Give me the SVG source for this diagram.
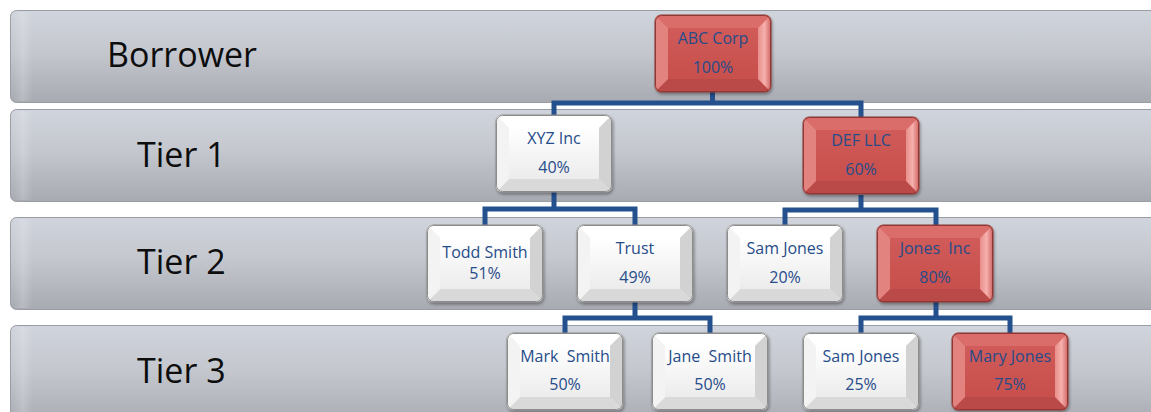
<svg xmlns="http://www.w3.org/2000/svg" xmlns:xlink="http://www.w3.org/1999/xlink" width="1151" height="412" viewBox="0 0 1151 412">
<style>
.band{fill:url(#bandGrad);stroke:#9a9da4;stroke-width:1}
.bandHi{fill:url(#bandLeft)}
.tier{font-family:"Open Sans","Liberation Sans",sans-serif;font-size:34px;fill:#0d0d0d}
.lbl{font-family:"Open Sans","Liberation Sans",sans-serif;font-size:16px;fill:#264c8a;text-anchor:middle}
.conn{fill:none;stroke:#24508e;stroke-width:5;stroke-linejoin:miter;stroke-linecap:butt}
.wOuter{fill:#f2f2f2;stroke:#8c8c8c;stroke-width:1}
.wFace{fill:url(#wFaceGrad)}
.wTop{fill:#ffffff}
.wLeft{fill:#f3f3f3}
.wRight{fill:#d2d2d2}
.wBot{fill:#d9d9d9}
.rOuter{fill:#cc5653;stroke:#8e3735;stroke-width:1}
.rFace{fill:url(#rFaceGrad)}
.rTop{fill:#da6c69}
.rLeft{fill:#e3837f}
.rRight{fill:url(#rRightGrad)}
.rBot{fill:#b94a47}
</style>
<defs>
<linearGradient id="bandGrad" x1="0" y1="0" x2="0" y2="1">
<stop offset="0" stop-color="#d0d4dc"/>
<stop offset="0.45" stop-color="#c4c7ce"/>
<stop offset="1" stop-color="#a7aab1"/>
</linearGradient>
<linearGradient id="bandLeft" x1="0" y1="0" x2="1" y2="0">
<stop offset="0" stop-color="#ffffff" stop-opacity="0"/>
<stop offset="0.5" stop-color="#ffffff" stop-opacity="0.18"/>
<stop offset="1" stop-color="#ffffff" stop-opacity="0"/>
</linearGradient>
<linearGradient id="wFaceGrad" x1="0" y1="0" x2="0" y2="1">
<stop offset="0" stop-color="#ffffff"/>
<stop offset="1" stop-color="#ececec"/>
</linearGradient>
<linearGradient id="rFaceGrad" x1="0" y1="0" x2="0" y2="1">
<stop offset="0" stop-color="#d05b58"/>
<stop offset="1" stop-color="#c74f4c"/>
</linearGradient>
<linearGradient id="rRightGrad" x1="0" y1="0" x2="1" y2="0">
<stop offset="0" stop-color="#e88e8b"/>
<stop offset="0.5" stop-color="#f6b0ad"/>
<stop offset="1" stop-color="#d06562"/>
</linearGradient>
<clipPath id="boxClip"><rect x="0" y="0" width="116" height="77" rx="6"/></clipPath>
<filter id="shadow" x="-10%" y="-10%" width="125%" height="130%">
<feGaussianBlur in="SourceAlpha" stdDeviation="1.5"/>
<feOffset dx="1" dy="2" result="b"/>
<feComponentTransfer><feFuncA type="linear" slope="0.35"/></feComponentTransfer>
<feMerge><feMergeNode/><feMergeNode in="SourceGraphic"/></feMerge>
</filter>
<g id="whiteBox">
<rect class="wOuter" x="0" y="0" width="116" height="77" rx="6" filter="url(#shadow)"/>
<g clip-path="url(#boxClip)">
<polygon class="wTop" points="0,0 116,0 103,13 13,13"/>
<polygon class="wBot" points="0,77 116,77 103,64 13,64"/>
<polygon class="wLeft" points="0,0 13,13 13,64 0,77"/>
<polygon class="wRight" points="116,0 103,13 103,64 116,77"/>
<rect class="wFace" x="13" y="13" width="90" height="51"/>
</g>
<rect x="0.5" y="0.5" width="115" height="76" rx="6" fill="none" stroke="#8c8c8c" stroke-width="1"/>
</g>
<g id="redBox">
<rect class="rOuter" x="0" y="0" width="116" height="77" rx="6" filter="url(#shadow)"/>
<g clip-path="url(#boxClip)">
<polygon class="rTop" points="0,0 116,0 103,13 13,13"/>
<polygon class="rBot" points="0,77 116,77 103,64 13,64"/>
<polygon class="rLeft" points="0,0 13,13 13,64 0,77"/>
<polygon class="rRight" points="116,0 103,13 103,64 116,77"/>
<rect class="rFace" x="13" y="13" width="90" height="51"/>
</g>
<rect x="0.5" y="0.5" width="115" height="76" rx="6" fill="none" stroke="#8e3735" stroke-width="1"/>
</g>
</defs>
<rect x="0" y="0" width="1151" height="412" fill="#ffffff"/>
<g id="bands">
<rect class="band" x="10.5" y="10.5" width="1150" height="92" rx="6"/>
<rect class="bandHi" x="13" y="12" width="20" height="89"/>
<rect class="band" x="10.5" y="109.5" width="1150" height="92" rx="6"/>
<rect class="bandHi" x="13" y="111" width="20" height="89"/>
<rect class="band" x="10.5" y="217.5" width="1150" height="92" rx="6"/>
<rect class="bandHi" x="13" y="219" width="20" height="89"/>
<rect class="band" x="10.5" y="325.5" width="1150" height="100" rx="6"/>
<rect class="bandHi" x="13" y="327" width="20" height="90"/>
<text class="tier" x="107" y="67">Borrower</text>
<text class="tier" x="137" y="167">Tier 1</text>
<text class="tier" x="137" y="274">Tier 2</text>
<text class="tier" x="137" y="383">Tier 3</text>
</g>
<g id="connectors">
<path class="conn" d="M712.5,92 V103 M554,115 V103 H861 V117"/>
<path class="conn" d="M554,192 V209 M485,225 V209 H635 V225"/>
<path class="conn" d="M861,195 V210 M785,225 V210 H936 V225"/>
<path class="conn" d="M635,302 V318 M565,333 V318 H710 V333"/>
<path class="conn" d="M936,302 V318 M861,333 V318 H1010 V333"/>
</g>
<g id="node-abc" transform="translate(655,15)"><use href="#redBox"/><text class="lbl" x="58" y="29">ABC Corp</text><text class="lbl" x="58" y="58">100%</text></g>
<g id="node-xyz" transform="translate(496,115)"><use href="#whiteBox"/><text class="lbl" x="58" y="29">XYZ Inc</text><text class="lbl" x="58" y="58">40%</text></g>
<g id="node-def" transform="translate(803,117)"><use href="#redBox"/><text class="lbl" x="58" y="29">DEF LLC</text><text class="lbl" x="58" y="58">60%</text></g>
<g id="node-todd" transform="translate(427,225)"><use href="#whiteBox"/><text class="lbl" x="58" y="33">Todd Smith</text><text class="lbl" x="58" y="54">51%</text></g>
<g id="node-trust" transform="translate(577,225)"><use href="#whiteBox"/><text class="lbl" x="58" y="29">Trust</text><text class="lbl" x="58" y="58">49%</text></g>
<g id="node-samjones2" transform="translate(727,225)"><use href="#whiteBox"/><text class="lbl" x="58" y="29">Sam Jones</text><text class="lbl" x="58" y="58">20%</text></g>
<g id="node-jonesinc" transform="translate(877,225)"><use href="#redBox"/><text class="lbl" x="58" y="29" xml:space="preserve">Jones  Inc</text><text class="lbl" x="58" y="58">80%</text></g>
<g id="node-mark" transform="translate(507,333)"><use href="#whiteBox"/><text class="lbl" x="58" y="29" xml:space="preserve">Mark  Smith</text><text class="lbl" x="58" y="57">50%</text></g>
<g id="node-jane" transform="translate(652,333)"><use href="#whiteBox"/><text class="lbl" x="58" y="29" xml:space="preserve">Jane  Smith</text><text class="lbl" x="58" y="57">50%</text></g>
<g id="node-samjones3" transform="translate(803,333)"><use href="#whiteBox"/><text class="lbl" x="58" y="29">Sam Jones</text><text class="lbl" x="58" y="57">25%</text></g>
<g id="node-mary" transform="translate(952,333)"><use href="#redBox"/><text class="lbl" x="58" y="29">Mary Jones</text><text class="lbl" x="58" y="57">75%</text></g>
</svg>
